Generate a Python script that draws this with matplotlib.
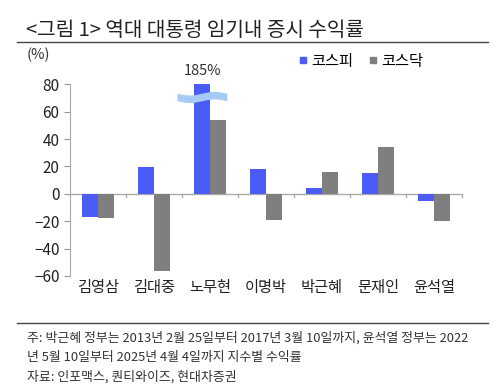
import numpy as np
import matplotlib.pyplot as plt
from matplotlib.lines import Line2D

plt.rcParams['font.family'] = ['Noto Sans CJK KR', 'DejaVu Sans']

presidents = ['김영삼', '김대중', '노무현', '이명박', '박근혜', '문재인', '윤석열']
kospi = [-17, 19.5, 185, 18, 4.5, 15, -5]
kosdaq = [-17.5, -56, 54, -19, 16, 34, -20]
y_max = 80
y_ticks = [-60, -40, -20, 0, 20, 40, 60, 80]

blue = '#4a5cf5'
gray = '#7f7f7f'

fig = plt.figure(figsize=(5, 3.84), dpi=100)
ax = fig.add_axes([0.14, 0.2813, 0.784, 0.4992])

x = np.arange(len(presidents))
w = 0.285
kospi_clip = [min(v, y_max) for v in kospi]
ax.bar(x - w / 2, kospi_clip, w, color=blue, zorder=2)
ax.bar(x + w / 2, kosdaq, w, color=gray, zorder=2)

# axis break mark for the clipped bar
i = kospi.index(max(kospi))
xs = np.linspace(i - 0.59, i + 0.30, 60)
wave = 1.3 * np.sin((xs - xs[0]) / (xs[-1] - xs[0]) * 2 * np.pi + np.pi)
ax.fill_between(xs, 68 + wave, 73.5 + wave, color='#a6cbf7', zorder=3, lw=0)
ax.text(i - 0.13, 89.5, f'{max(kospi)}%', ha='center', va='center', fontsize=10.5,
        color='#333333')

ax.set_xlim(-0.5, len(presidents) - 0.5)
ax.set_ylim(-60, 80)
ax.set_yticks(y_ticks)
ax.tick_params(axis='y', labelsize=11, colors='#999999', labelcolor='#222222',
               length=4, direction='out')
for s in ['top', 'right', 'bottom']:
    ax.spines[s].set_visible(False)
ax.spines['left'].set_color('#aaaaaa')
ax.axhline(0, color='#aaaaaa', lw=1, zorder=1)
for b in np.arange(0.5, len(presidents), 1.0):
    ax.plot([b, b], [0, -2], color='#aaaaaa', lw=1, clip_on=False)
ax.set_xticks([])
for xi, name in zip(x, presidents):
    ax.text(xi, -62.5, name, ha='center', va='top', fontsize=11, color='#222222')

handles = [Line2D([], [], marker='s', ls='', color=blue, markersize=5),
           Line2D([], [], marker='s', ls='', color=gray, markersize=5)]
ax.legend(handles, ['코스피', '코스닥'], loc='center left', bbox_to_anchor=(0.55, 1.12),
          ncol=2, frameon=False, fontsize=11, handlelength=0.5, handletextpad=0.3,
          columnspacing=1.0)

fig.text(0.054, 0.857, '(%)', fontsize=10.5, color='#333333', va='center')
fig.text(0.052, 0.92, '<그림 1> 역대 대통령 임기내 증시 수익률', fontsize=14.5,
         color='#222222', va='center')
fig.add_artist(plt.Line2D([0.034, 0.976], [0.89, 0.89], color='#444444', lw=1))
fig.add_artist(plt.Line2D([0.034, 0.976], [0.159, 0.159], color='#444444', lw=1))
notes = ['주: 박근혜 정부는 2013년 2월 25일부터 2017년 3월 10일까지, 윤석열 정부는 2022',
         '년 5월 10일부터 2025년 4월 4일까지 지수별 수익률',
         '자료: 인포맥스, 퀀티와이즈, 현대차증권']
for k, line in enumerate(notes):
    fig.text(0.054, 0.12 - k * 0.051, line, fontsize=9.3, color='#333333', va='center')

fig.savefig('out.png', dpi=100)
